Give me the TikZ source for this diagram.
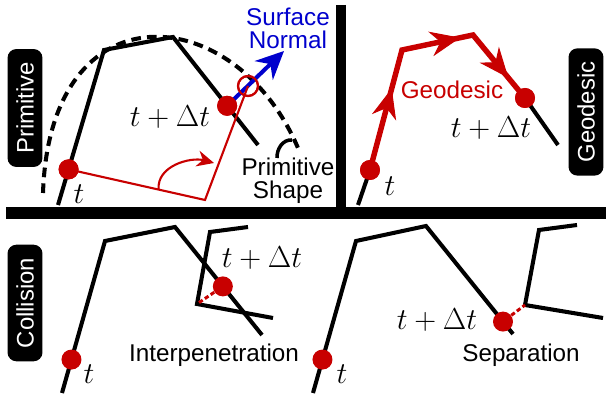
\documentclass[tikz,border=0pt]{standalone}
\usepackage{fontspec}
\setsansfont{Liberation Sans}
\usetikzlibrary{arrows.meta,calc}
\definecolor{dotred}{RGB}{200,0,0}
\definecolor{normalblue}{RGB}{0,0,205}
\tikzset{
  curveline/.style={
    draw=black,
    line width=2.3pt,
    line join=miter
  },
  primitiveline/.style={
    draw=black,
    line width=2.3pt,
    dash pattern=on 5.5pt off 3.5pt
  },
  statedot/.style={
    circle,
    fill=dotred,
    inner sep=0pt,
    minimum size=0.4cm
  },
  hitmark/.style={
    circle,
    draw=dotred,
    line width=1.2pt,
    inner sep=0pt,
    minimum size=0.4cm
  },
  redline/.style={
    draw=dotred,
    line width=1.2pt
  },
  gapline/.style={
    draw=dotred,
    line width=1.7pt,
    dash pattern=on 2.5pt off 1.5pt
  },
  geodesicpath/.style={
    draw=dotred,
    line width=3.1pt,
    line join=miter
  },
  stepmark/.style={
    draw=dotred,
    fill=dotred,
    line width=0.6pt,
    -{Stealth[length=6mm,width=5mm]}
  },
  normalarrow/.style={
    draw=normalblue,
    line width=2.3pt,
    -{Stealth[length=5.6mm,width=5.2mm]}
  },
  panellabel/.style={
    fill=black,
    text=white,
    rounded corners=1.8mm,
    rotate=90,
    font=\sffamily\fontsize{13.6}{14}\selectfont,
    inner xsep=7.5pt,
    minimum height=0.7cm
  },
  notetext/.style={
    font=\sffamily\fontsize{13.8}{13}\selectfont,
    align=center
  },
  statetext/.style={
    font=\fontsize{16}{16}\selectfont
  }
}

\begin{document}
\begin{tikzpicture}[x=0.02cm,y=-0.02cm]

  \useasboundingbox (0,0) rectangle (606,398);

  % Thick dividers between the four panels.
  \draw[line width=6.6pt] (6,213) -- (606,213);
  \draw[line width=6.2pt] (341,5) -- (341,213);

  % Side labels of the panels.
  \node[panellabel] (primlbl) at (25,108) {Primitive};
  \node[panellabel] (geolbl)  at (586,112) {Geodesic};
  \node[panellabel] (collbl)  at (25,303) {Collision};

  % Top left: the polyline and the primitive fitted to it.
  \coordinate (pA0) at (58,205);
  \coordinate (pA1) at (104,50);
  \coordinate (pA2) at (173,37);
  \coordinate (pA3) at (258,145);
  \coordinate (shapeA) at (43,193);
  \coordinate (shapeB) at (298,148);
  \coordinate (cornerA) at (205,200);
  \coordinate (tipN) at (284,51);
  \coordinate (braceA) at (277,158);
  \coordinate (braceB) at (292,140);

  \draw[primitiveline] (shapeA) .. controls (50,-15) and (235,0) .. (shapeB);
  \draw[curveline] (pA0) -- (pA1) -- (pA2) -- (pA3);

  \node[statedot] (tA) at ($(pA0)!0.23!(pA1)$) {};
  \node[statedot] (dA) at ($(pA2)!0.637!(pA3)$) {};
  \node[hitmark]  (hitA) at (248,86) {};

  % Normal at the contact point, then the angle it makes.
  \draw[normalarrow] (dA.center) -- (tipN);
  \draw[redline] (tA.center) -- (cornerA) -- (hitA.center);
  \draw[redline,-{Stealth[length=3.4mm,width=3.2mm]}]
    ($(tA.center)!0.66!(cornerA)$) to[out=95,in=165] (214,163);
  \node[hitmark] at (hitA) {};
  \node[statedot] at (dA) {};
  \node[statedot] at (tA) {};

  \node[statetext] (tAlbl) at (79,194) {$t$};
  \node[statetext] (dAlbl) at (170,117) {$t+\Delta t$};
  \node[notetext,text=normalblue] (normlbl) at (288,28) {Surface\\Normal};
  \node[notetext] (shapelbl) at (288,181) {Primitive\\Shape};
  \draw[line width=2pt] (braceA) to[out=92,in=175] (braceB);

  % Top right: the geodesic step along the polyline.
  \coordinate (gB0) at (358,205);
  \coordinate (gB1) at (402,50);
  \coordinate (gB2) at (473,35);
  \coordinate (gB3) at (558,145);

  \node[statedot] (tB) at (370,170) {};
  \node[statedot] (dB) at (525,98) {};
  \draw[curveline] (gB0) -- (tB.center);
  \draw[curveline] (dB.center) -- (gB3);
  \draw[geodesicpath] (tB.center) -- (gB1) -- (gB2) -- (dB.center);
  \draw[stepmark] (tB.center) -- ($(tB.center)!0.68!(gB1)$);
  \draw[stepmark] (gB1) -- ($(gB1)!0.82!(gB2)$);
  \draw[stepmark] (gB2) -- ($(gB2)!0.68!(dB.center)$);
  \node[statedot] at (tB) {};
  \node[statedot] at (dB) {};

  \node[statetext] (tBlbl) at (390,186) {$t$};
  \node[statetext] (dBlbl) at (491,128) {$t+\Delta t$};
  \node[notetext,text=dotred] (geolbltext) at (452,90) {Geodesic};

  % Bottom left: the step ends inside the other polyline.
  \coordinate (cC0) at (62,393);
  \coordinate (cC1) at (105,241);
  \coordinate (cC2) at (175,227);
  \coordinate (cC3) at (262,335);
  \coordinate (oC0) at (248,227);
  \coordinate (oC1) at (210,232);
  \coordinate (oC2) at (197,304);
  \coordinate (oC3) at (273,318);

  \draw[curveline] (cC0) -- (cC1) -- (cC2) -- (cC3);
  \draw[curveline] (oC0) -- (oC1) -- (oC2) -- (oC3);
  \node[statedot] (tC) at ($(cC0)!0.22!(cC1)$) {};
  \node[statedot] (dC) at ($(cC2)!0.55!(cC3)$) {};
  \draw[gapline] (dC) -- (oC2);

  \node[statetext] (tClbl) at (89,374) {$t$};
  \node[statetext] (dClbl) at (262,258) {$t+\Delta t$};
  \node[notetext] (interlbl) at (214,355) {Interpenetration};

  % Bottom right: the step stops short of the other polyline.
  \coordinate (sD0) at (313,393);
  \coordinate (sD1) at (356,241);
  \coordinate (sD2) at (426,226);
  \coordinate (sD3) at (513,334);
  \coordinate (oD0) at (577,225);
  \coordinate (oD1) at (539,230);
  \coordinate (oD2) at (525,305);
  \coordinate (oD3) at (603,318);

  \draw[curveline] (sD0) -- (sD1) -- (sD2) -- (sD3);
  \draw[curveline] (oD0) -- (oD1) -- (oD2) -- (oD3);
  \node[statedot] (tD) at ($(sD0)!0.22!(sD1)$) {};
  \node[statedot] (dD) at ($(sD2)!0.885!(sD3)$) {};
  \draw[gapline] (dD) -- (oD2);

  \node[statetext] (tDlbl) at (342,374) {$t$};
  \node[statetext] (dDlbl) at (437,320) {$t+\Delta t$};
  \node[notetext] (seplbl) at (521,355) {Separation};

\end{tikzpicture}
\end{document}
